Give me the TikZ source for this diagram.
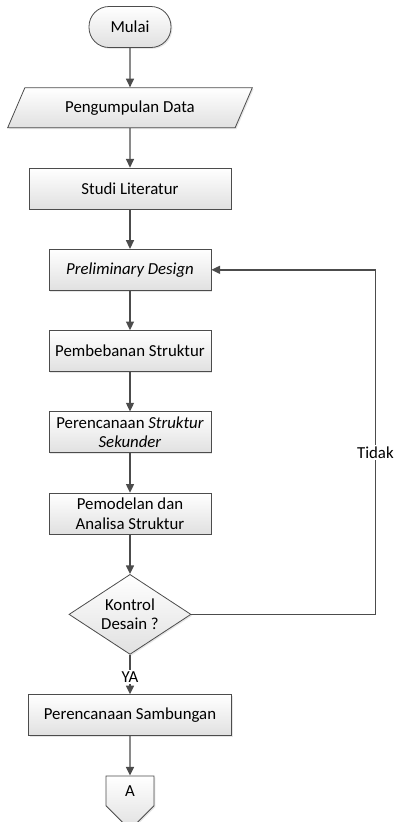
\documentclass[tikz,border=0pt]{standalone}
\usepackage{fontspec}
\setmainfont{Carlito}
\usetikzlibrary{positioning,shapes.geometric,shapes.symbols,arrows.meta,shadows}

\begin{document}
\begin{tikzpicture}[x=0.75pt,y=0.75pt,node distance=29.6pt,
    font=\fontsize{12.6}{14.5}\selectfont,
    base/.style={draw=black!70,line width=0.6pt,top color=white,bottom color=black!12,
      drop shadow={shadow xshift=1pt,shadow yshift=-1pt,opacity=0.2},align=center,inner sep=2pt},
    proses/.style={base,rectangle,minimum width=121.5pt,minimum height=30.75pt},
    line/.style={draw=black!70,line width=1.1pt,-{Triangle[width=6pt,length=6.5pt]}}]
      \useasboundingbox (0,0) rectangle (397,-822);
      \node[base,rounded corners=15pt,minimum width=61.5pt,minimum height=30.75pt] (1) at (130,-27) {Mulai};
      \node[base,trapezium,trapezium stretches=true,trapezium left angle=61,trapezium right angle=119,minimum width=183.75pt,minimum height=30pt,below=of 1] (2) {Pengumpulan Data};
      \node[proses,minimum width=151.5pt,below=of 2] (3) {Studi Literatur};
      \node[proses,below=of 3] (4) {\textit{Preliminary Design}};
      \node[proses,below=of 4] (5) {Pembebanan Struktur};
      \node[proses,below=of 5] (6) {Perencanaan \textit{Struktur}\\\textit{Sekunder}};
      \node[proses,below=of 6] (7) {Pemodelan dan\\Analisa Struktur};
      \node[base,diamond,aspect=1.5,inner sep=0pt,minimum width=91.5pt,minimum height=60pt,below=of 7] (8) {Kontrol\\Desain ?};
      \node[proses,minimum width=152.25pt,below=of 8] (9) {Perencanaan Sambungan};
      \node[base,signal,signal to=south,signal pointer angle=90,minimum width=36pt,minimum height=28pt,below=of 9] (10) {A};

      \draw[line] (1) -- (2);
      \draw[line] (2) -- (3);
      \draw[line] (3) -- (4);
      \draw[line] (4) -- (5);
      \draw[line] (5) -- (6);
      \draw[line] (6) -- (7);
      \draw[line] (7) -- (8);
      \draw[line] (8) -- node[fill=white,inner sep=1pt,yshift=-2pt] {YA} (9);
      \draw[line] (9) -- (10);
      \draw[line] (8.east) -- ++(184,0) |- node[pos=0.235,fill=white,inner sep=1pt] {Tidak} (4.east);
    \end{tikzpicture}
\end{document}
